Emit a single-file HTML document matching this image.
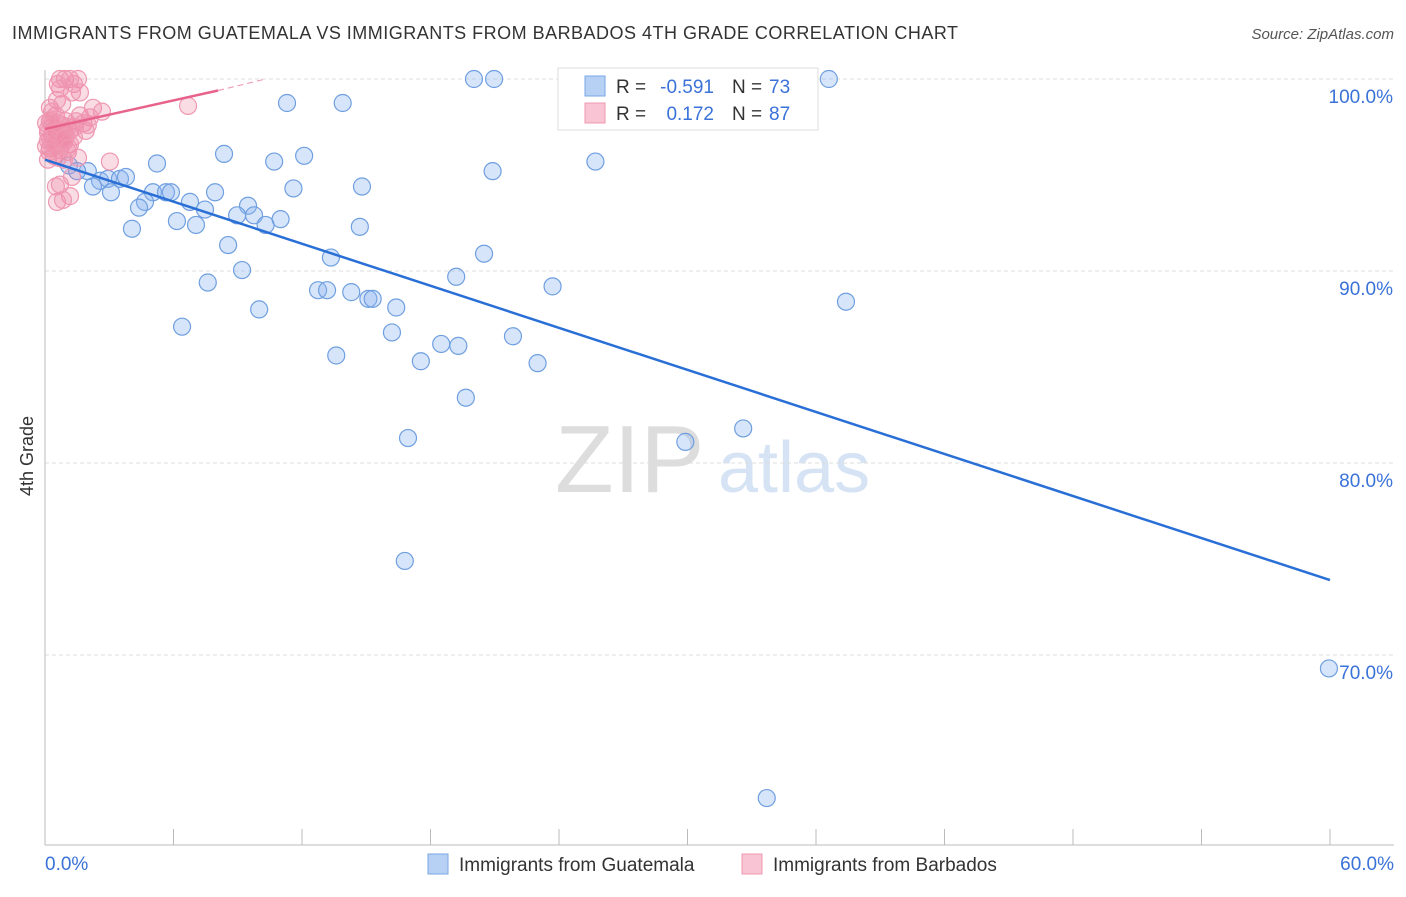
<!DOCTYPE html>
<html><head><meta charset="utf-8"><style>
body{margin:0;background:#fff;font-family:"Liberation Sans",sans-serif;}
svg text{font-family:"Liberation Sans",sans-serif;}
</style></head><body>
<svg id="c" width="1406" height="892" viewBox="0 0 1406 892">
<text x="12" y="39" font-size="18" fill="#333" textLength="946">IMMIGRANTS FROM GUATEMALA VS IMMIGRANTS FROM BARBADOS 4TH GRADE CORRELATION CHART</text>
<text x="1394" y="39" font-size="15" fill="#555" text-anchor="end" font-style="italic">Source: ZipAtlas.com</text>
<text x="33" y="456" font-size="18" fill="#333" text-anchor="middle" transform="rotate(-90 33 456)">4th Grade</text>
<text x="555" y="492" font-size="96" fill="#ddd" font-family="Liberation Serif">ZIP</text>
<text x="718" y="492" font-size="72" fill="#d5e3f5">atlas</text>
<g id="grid"></g><g id="pts"></g><g id="lines"></g>
<g>
<rect x="558" y="68" width="260" height="62" fill="#fff" stroke="#ddd"/>
<rect x="585" y="76" width="20" height="20" fill="#b7d1f5" stroke="#7aa6e6"/>
<rect x="585" y="103" width="20" height="20" fill="#f9c4d3" stroke="#ef98b2"/>
<text x="616" y="93" font-size="19" fill="#333">R =</text>
<text x="714" y="93" font-size="19" fill="#3a72d8" text-anchor="end">-0.591</text>
<text x="732" y="93" font-size="19" fill="#333">N =</text>
<text x="769" y="93" font-size="19" fill="#3a72d8">73</text>
<text x="616" y="120" font-size="19" fill="#333">R =</text>
<text x="714" y="120" font-size="19" fill="#3a72d8" text-anchor="end">0.172</text>
<text x="732" y="120" font-size="19" fill="#333">N =</text>
<text x="769" y="120" font-size="19" fill="#3a72d8">87</text>
</g>
<g>
<rect x="428" y="854" width="20" height="20" fill="#b7d1f5" stroke="#7aa6e6"/>
<text x="459" y="871" font-size="19" fill="#333">Immigrants from Guatemala</text>
<rect x="742" y="854" width="20" height="20" fill="#f9c4d3" stroke="#ef98b2"/>
<text x="773" y="871" font-size="19" fill="#333">Immigrants from Barbados</text>
</g>
</svg>
<script>
const yTicks=[100,90,80,70];
const yTickLabels=["100.0%","90.0%","80.0%","70.0%"];
const xTicks=[0,6,12,18,24,30,36,42,48,54,60];
const xEndLabels=["0.0%","60.0%"];
const guatX=[20.03,20.97,36.6,11.3,13.9,8.36,5.23,10.7,12.1,25.7,20.9,14.8,11.6,1.12,2.0,1.5,2.57,2.94,3.5,3.78,2.24,3.08,5.04,5.65,5.88,7.94,4.67,4.39,6.77,7.47,9.48,8.97,9.76,10.3,11.0,4.06,6.16,7.05,14.7,8.55,20.5,13.35,9.2,19.2,7.6,23.7,12.75,13.17,14.3,15.1,15.3,16.4,37.4,10.0,6.4,16.2,21.85,18.5,19.3,13.6,17.55,23.0,19.65,16.95,29.9,32.6,16.8,59.95,33.7];
const guatY=[100,100,100,98.75,98.75,96.1,95.6,95.7,96.0,95.7,95.2,94.4,94.3,95.5,95.2,95.2,94.7,94.8,94.8,94.9,94.4,94.1,94.1,94.1,94.1,94.1,93.6,93.3,93.6,93.2,93.4,92.9,92.9,92.4,92.7,92.2,92.6,92.4,92.3,91.35,90.9,90.7,90.05,89.7,89.4,89.2,89.0,89.0,88.9,88.55,88.55,88.1,88.4,88.0,87.1,86.8,86.6,86.2,86.1,85.6,85.3,85.2,83.4,81.3,81.1,81.8,74.9,69.3,62.55];
const barbX=[0.7,0.93,1.17,1.54,0.6,1.35,0.7,1.26,0.56,0.8,0.23,2.24,2.66,6.68,0.51,1.63,2.1,0.23,0.98,1.45,1.8,0.14,0.47,0.8,1.17,1.9,0.33,0.6,0.93,1.35,0.14,0.51,0.84,1.17,0.23,0.7,1.07,0.42,1.54,3.03,0.14,0.89,1.26,0.7,0.51,1.17,0.56,0.84,1.63,0.33,0.05,0.33,0.6,0.8,1.07,0.14,0.42,0.7,0.98,0.23,0.6,0.89,0.05,0.42,0.8,1.4,2.0,0.3,0.5,0.9,1.1,0.2,0.6];
const barbY=[100,100,100,100,99.74,99.74,99.5,99.3,98.9,98.7,98.5,98.5,98.3,98.6,98.1,98.1,98.0,97.8,97.8,97.8,97.7,97.4,97.4,97.3,97.3,97.3,97.1,97.0,97.1,97.0,96.8,96.7,96.8,96.6,96.4,96.3,96.2,96.0,95.9,95.7,95.8,95.8,94.9,94.5,94.4,93.9,93.6,93.7,99.3,98.3,97.7,97.6,97.7,97.6,97.5,97.2,97.0,97.3,97.0,96.9,96.8,96.7,96.5,96.6,96.8,97.5,97.6,97.9,97.2,96.9,96.4,96.2,95.9];
const guatTrend=[95.8,73.9];
const barbTrend=[97.4,99.4,100];
const barbTrendX=[0,8.08,10.3];
const NS="http://www.w3.org/2000/svg";
const xs=v=>45+v/60*1285, ys=v=>79+(100-v)*19.2;
function mk(t,a,p){const e=document.createElementNS(NS,t);for(const k in a)e.setAttribute(k,a[k]);p.appendChild(e);return e;}
const g=document.getElementById('grid');
yTicks.forEach((t,i)=>{
 const l=mk('line',{x1:45,x2:1394,y1:ys(t),y2:ys(t),stroke:'#ddd','stroke-dasharray':'4,3'},g);
 
 
 const tx=mk('text',{x:1393,y:ys(t)+24,'font-size':19,fill:'#3a72d8','text-anchor':'end'},g);tx.textContent=yTickLabels[i];
 
 
});
mk('line',{x1:45,x2:45,y1:70,y2:845,stroke:'#bbb'},g);
mk('line',{x1:45,x2:1394,y1:845,y2:845,stroke:'#bbb'},g);
xTicks.forEach(t=>{const l=mk('line',{x1:xs(t),x2:xs(t),y1:829,y2:845,stroke:'#bbb'},g);
 
 });
const t0=mk('text',{x:45,y:870,'font-size':19,fill:'#3a72d8'},g);t0.textContent=xEndLabels[0];


const t1=mk('text',{x:1394,y:870,'font-size':19,fill:'#3a72d8','text-anchor':'end'},g);t1.textContent=xEndLabels[1];


const p=document.getElementById('pts');
guatX.forEach((x,i)=>{const c=mk('circle',{cx:xs(x),cy:ys(guatY[i]),r:8.5,fill:'rgba(140,180,240,0.35)',stroke:'#6f9fe0','stroke-width':1.2},p);
 
 });
barbX.forEach((x,i)=>{const c=mk('circle',{cx:xs(x),cy:ys(barbY[i]),r:8.5,fill:'rgba(240,140,170,0.3)',stroke:'#ef98b2','stroke-width':1.2},p);
 
 });
const L=document.getElementById('lines');
const b=mk('line',{x1:xs(0),y1:ys(guatTrend[0]),x2:xs(60),y2:ys(guatTrend[1]),stroke:'#2a6fd6','stroke-width':2.5},L);


const pk=mk('line',{x1:xs(barbTrendX[0]),y1:ys(barbTrend[0]),x2:xs(barbTrendX[1]),y2:ys(barbTrend[1]),stroke:'#e8638c','stroke-width':2.5},L);


const pd=mk('line',{x1:xs(barbTrendX[1]),y1:ys(barbTrend[1]),x2:xs(barbTrendX[2]),y2:ys(barbTrend[2]),stroke:'#f0a0b8','stroke-width':1.2,'stroke-dasharray':'6,4'},L);


</script>
</body></html>
